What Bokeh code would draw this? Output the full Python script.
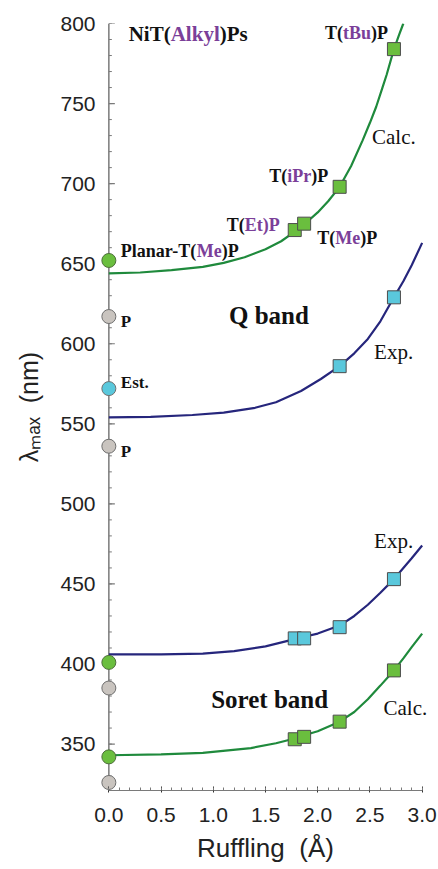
from bokeh.plotting import figure
from bokeh.models import Range1d, FixedTicker, Label, PrintfTickFormatter, Span
from bokeh.embed import file_html
from bokeh.resources import INLINE

# ---------------- data ----------------
# Q band, calculated (squares) and its fitted curve
q_calc_x = [1.78, 1.87, 2.21, 2.73]
q_calc_y = [671, 675, 698, 784]
q_calc_curve_x = [0, 0.3, 0.6, 0.9, 1.1, 1.3, 1.5, 1.65, 1.78, 1.87, 2.0, 2.1, 2.21, 2.32,
                  2.43, 2.5, 2.56, 2.62, 2.66, 2.73, 2.78, 2.82]
q_calc_curve_y = [644, 644.5, 646, 648, 650.5, 654, 659, 664, 670, 674.5, 682, 689, 698, 711,
                  727, 738, 748, 760, 768, 784, 793, 800]

# Q band, experimental
q_exp_x = [2.21, 2.73]
q_exp_y = [586, 629]
q_exp_curve_x = [0, 0.4, 0.8, 1.1, 1.4, 1.6, 1.84, 2.03, 2.21, 2.35, 2.48, 2.6, 2.73, 2.82, 2.9, 3.0]
q_exp_curve_y = [554, 554.3, 555.5, 557, 560, 563.5, 570.5, 578, 586, 594, 603, 614, 629, 639, 649, 663]

# Soret band, experimental
s_exp_x = [1.78, 1.87, 2.21, 2.73]
s_exp_y = [416, 416, 423, 453]
s_exp_curve_x = [0, 0.5, 0.9, 1.2, 1.5, 1.78, 1.87, 2.0, 2.21, 2.35, 2.48, 2.6, 2.73, 2.82, 2.9, 3.0]
s_exp_curve_y = [406, 406, 406.5, 408, 411, 415.5, 417, 419, 424, 430, 437, 444.5, 453, 460, 466, 474]

# Soret band, calculated
s_calc_x = [1.78, 1.87, 2.21, 2.73]
s_calc_y = [353, 354.5, 364, 396]
s_calc_curve_x = [0, 0.5, 0.9, 1.36, 1.6, 1.78, 1.87, 2.0, 2.21, 2.35, 2.48, 2.6, 2.73, 2.82, 2.9, 3.0]
s_calc_curve_y = [343, 343.5, 344.5, 347.5, 350.5, 353.5, 355.5, 358, 364, 370, 378, 386.5, 396, 403.5, 410.5, 419]

# planar (ruffling = 0) values
planar_calc_y = [652, 401, 342]      # green circles
planar_p_y = [617, 536, 385, 326]     # grey circles
planar_est_y = [572]                  # cyan circle

x_ticks = [0.0, 0.5, 1.0, 1.5, 2.0, 2.5, 3.0]
x_minor = [round(i * 0.1, 1) for i in range(31)]
y_ticks = [350, 400, 450, 500, 550, 600, 650, 700, 750, 800]
y_minor = list(range(330, 801, 10))

# ---------------- style ----------------
GREEN_FILL = "#6abe3e"
GREEN_LINE = "#1f8a3c"
NAVY_LINE = "#26267c"
CYAN_FILL = "#5ac8dc"
GREY_FILL = "#c9c4bf"
EDGE = "#4d4d4d"
PURPLE = "#7b3f99"
BLACK = "#111111"
AXIS = "#7a7a7a"

p = figure(width=438, height=869, output_backend="svg", toolbar_location=None,
           x_range=Range1d(-0.08, 3.08), y_range=Range1d(321, 800),
           min_border_left=100, min_border_right=8, min_border_top=23, min_border_bottom=79)
p.grid.visible = False
p.outline_line_color = None
p.background_fill_color = "white"

# x axis
xa = p.xaxis[0]
xa.ticker = FixedTicker(ticks=x_ticks, minor_ticks=x_minor)
xa.formatter = PrintfTickFormatter(format="%.1f")
xa.bounds = (0, 3)
xa.axis_line_color = AXIS
xa.major_tick_line_color = "#333333"
xa.minor_tick_line_color = AXIS
xa.major_tick_in = 4
xa.major_tick_out = 2
xa.minor_tick_in = 3
xa.minor_tick_out = 0
xa.major_label_text_font = "Liberation Sans"
xa.major_label_text_font_size = "21px"
xa.major_label_text_color = "#222222"
xa.major_label_standoff = 15
xa.axis_label = "Ruffling\u00a0 (Å)"
xa.axis_label_text_font = "Liberation Sans"
xa.axis_label_text_font_size = "26px"
xa.axis_label_text_font_style = "normal"
xa.axis_label_text_color = "#222222"
xa.axis_label_standoff = 8

# y axis: labels at the frame edge, line and ticks drawn at x = 0
ya = p.yaxis[0]
ya.ticker = FixedTicker(ticks=y_ticks, minor_ticks=y_minor)
ya.axis_line_color = None
ya.major_tick_line_color = None
ya.minor_tick_line_color = None
ya.major_tick_out = 0
ya.major_tick_in = 0
ya.minor_tick_out = 0
ya.minor_tick_in = 0
ya.major_label_text_font = "Liberation Sans"
ya.major_label_text_font_size = "21px"
ya.major_label_text_color = "#222222"
ya.major_label_standoff = 5
ya.axis_label = "λₘₐₓ\u00a0 (nm)"
ya.axis_label_text_font = "Liberation Sans"
ya.axis_label_text_font_size = "25px"
ya.axis_label_text_font_style = "normal"
ya.axis_label_text_color = "#222222"
ya.axis_label_standoff = 14

p.add_layout(Span(location=0, dimension="height", line_color=AXIS, line_width=1.5, level="underlay"))
p.ray(x=[0] * len(y_minor), y=y_minor, length=3, length_units="screen", angle=0,
      line_color=AXIS, line_width=1)
p.ray(x=[0] * len(y_ticks), y=y_ticks, length=6, length_units="screen", angle=0,
      line_color=AXIS, line_width=1.2)

# curves
p.line(q_calc_curve_x, q_calc_curve_y, line_color=GREEN_LINE, line_width=2.2)
p.line(q_exp_curve_x, q_exp_curve_y, line_color=NAVY_LINE, line_width=2.2)
p.line(s_exp_curve_x, s_exp_curve_y, line_color=NAVY_LINE, line_width=2.2)
p.line(s_calc_curve_x, s_calc_curve_y, line_color=GREEN_LINE, line_width=2.2)

# squares
p.scatter(q_calc_x, q_calc_y, marker="square", size=13, fill_color=GREEN_FILL, line_color=EDGE, line_width=1)
p.scatter(q_exp_x, q_exp_y, marker="square", size=13, fill_color=CYAN_FILL, line_color=EDGE, line_width=1)
p.scatter(s_exp_x, s_exp_y, marker="square", size=13, fill_color=CYAN_FILL, line_color=EDGE, line_width=1)
p.scatter(s_calc_x, s_calc_y, marker="square", size=13, fill_color=GREEN_FILL, line_color=EDGE, line_width=1)

# circles at zero ruffling
p.scatter([0] * len(planar_p_y), planar_p_y, marker="circle", size=14, fill_color=GREY_FILL,
          line_color="#6e6e6e", line_width=1)
p.scatter([0] * len(planar_est_y), planar_est_y, marker="circle", size=14, fill_color=CYAN_FILL,
          line_color="#6e6e6e", line_width=1)
p.scatter([0] * len(planar_calc_y), planar_calc_y, marker="circle", size=14, fill_color=GREEN_FILL,
          line_color="#4d6e3a", line_width=1)

# text helpers (Times metrics)
BOLD_W = {"T": 667, "(": 333, ")": 333, "P": 611, "t": 333, "B": 667, "u": 556, "i": 278,
          "r": 444, "E": 667, "M": 944, "e": 444, "N": 722, "A": 722, "l": 278, "k": 556,
          "y": 500, "s": 389, "a": 500, "n": 556, "-": 333, " ": 250, ".": 250}


def text_w(txt, size):
    return sum(BOLD_W.get(c, 500) for c in txt) * size / 1000.0


def add_text(x, y, segments, size, style="bold"):
    off = 0.0
    for txt, col in segments:
        p.add_layout(Label(x=x, y=y, x_offset=off, text=txt, text_color=col,
                           text_font="Liberation Serif", text_font_size=f"{size}px",
                           text_font_style=style, text_align="left", text_baseline="middle"))
        off += text_w(txt, size)


add_text(0.19, 793.5, [("NiT(", BLACK), ("Alkyl", PURPLE), (")Ps", BLACK)], 21)
add_text(2.07, 794, [("T(", BLACK), ("tBu", PURPLE), (")P", BLACK)], 18)
add_text(1.535, 705, [("T(", BLACK), ("iPr", PURPLE), (")P", BLACK)], 18)
add_text(1.13, 674, [("T(", BLACK), ("Et", PURPLE), (")P", PURPLE)], 18)
add_text(1.995, 666, [("T(", BLACK), ("Me", PURPLE), (")P", BLACK)], 18)
add_text(0.115, 658, [("Planar-T(", BLACK), ("Me", PURPLE), (")P", BLACK)], 18)
add_text(0.115, 614, [("P", BLACK)], 17)
add_text(0.115, 575.5, [("Est.", BLACK)], 17)
add_text(0.115, 532.5, [("P", BLACK)], 17)
add_text(1.15, 617.5, [("Q band", BLACK)], 25)
add_text(0.98, 378, [("Soret band", BLACK)], 25)
add_text(2.52, 729, [("Calc.", BLACK)], 21, style="normal")
add_text(2.54, 595, [("Exp.", BLACK)], 21, style="normal")
add_text(2.54, 477, [("Exp.", BLACK)], 21, style="normal")
add_text(2.63, 372.5, [("Calc.", BLACK)], 21, style="normal")

open("out.html", "w").write(file_html(p, INLINE))
